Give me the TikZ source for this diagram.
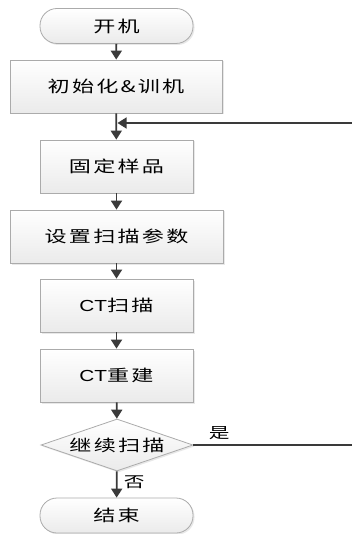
\documentclass[tikz,border=0pt]{standalone}
\usepackage{fontspec}
\usetikzlibrary{arrows.meta,shapes.geometric,shadows}
\newfontfamily\cjk[FakeStretch=1.38,LetterSpace=14]{Noto Sans CJK SC}
\newfontfamily\lat[FakeStretch=1.3]{Liberation Sans}
\definecolor{edge}{HTML}{ABABAB}
\definecolor{ink}{HTML}{3A3A3A}
\tikzset{
  x=1pt, y=-1pt,
  every node/.style={font=\fontsize{16}{18}\cjk, text=black},
  boxbase/.style={draw=edge, line width=0.8pt, top color=white, bottom color=black!8,
    drop shadow={shadow xshift=1.5pt, shadow yshift=-1.5pt, opacity=0.18},
    inner sep=0pt, minimum height=53pt},
  stepbox/.style={boxbase, rectangle},
  termbox/.style={boxbase, rectangle, rounded corners=17pt, minimum height=35pt, minimum width=153pt},
  choice/.style={boxbase, diamond, minimum width=152pt, minimum height=52pt},
  flow/.style={draw=ink, line width=1.8pt, -{Triangle[width=11pt,length=9pt]}},
  lbl/.style={font=\fontsize{15}{17}\cjk}
}
\begin{document}
\begin{tikzpicture}
\useasboundingbox (0,0) rectangle (351,534);
\fill[white] (0,0) rectangle (351,534);

\node[termbox] (start) at (116.5,26) {开机};
\node[stepbox, minimum width=212pt] (init) at (116,86.5) {初始化\&训机};
\node[stepbox, minimum width=153pt] (fix) at (116.5,166.5) {固定样品};
\node[stepbox, minimum width=213pt] (param) at (116.5,236.5) {设置扫描参数};
\node[stepbox, minimum width=153pt] (scan) at (116.5,305.5) {{\lat CT}扫描};
\node[stepbox, minimum width=153pt] (recon) at (116.5,375.5) {{\lat CT}重建};
\node[choice] (dec) at (117,445) {\makebox[0pt]{继续扫描}};
\node[termbox] (stop) at (116.5,515.5) {结束};

\coordinate (join) at (117.5,123);
\coordinate (rb) at (354,445);
\coordinate (rt) at (354,123);

\draw[flow] (start) -- (init);
\draw[flow] (init) -- (fix);
\draw[flow] (fix) -- (param);
\draw[flow] (param) -- (scan);
\draw[flow] (scan) -- (recon);
\draw[flow] (recon) -- (dec);
\draw[flow] (dec) -- node[lbl, right=3pt, pos=0.4] (no) {否} (stop);
\draw[flow, line width=1.3pt] (dec.east) -- node[lbl, above=1pt, pos=0.16] (yes) {是} (rb) -- (rt) -- (join);
\end{tikzpicture}
\end{document}
